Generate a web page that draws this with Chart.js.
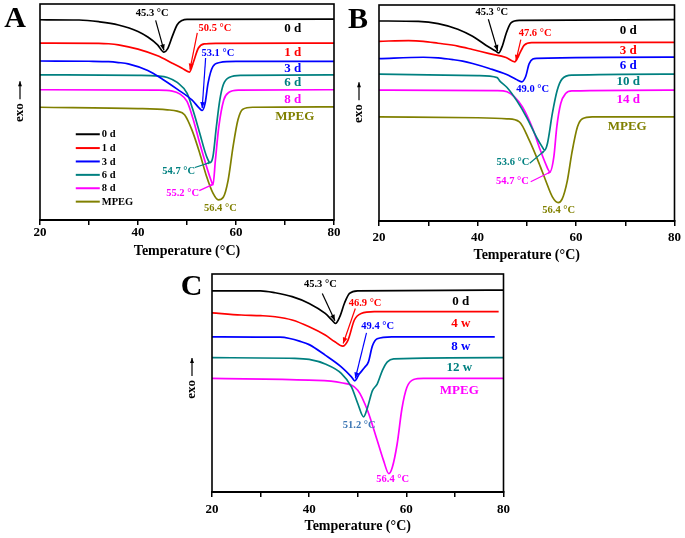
<!DOCTYPE html>
<html>
<head>
<meta charset="utf-8">
<script src="https://cdn.jsdelivr.net/npm/chart.js@4"></script>
<style>
  body { margin: 0; background: #fff; }
  #wrap { position: relative; width: 685px; height: 538px; overflow: hidden; }
  canvas { position: absolute; }
</style>
</head>
<body>
<div id="wrap">
  <canvas id="chartA" width="342" height="262" style="left:0;top:0"></canvas>
  <canvas id="chartB" width="345" height="266" style="left:340px;top:0"></canvas>
  <canvas id="chartC" width="345" height="276" style="left:170px;top:262px"></canvas>
</div>
<script>
// temperature (°C), heat flow (arb. units, exo up)
const a0 = [[20,92.7],[28,92.6],[32,91.8],[36,90.3],[40,87.3],[42,84.7],[44,81.1],[45.3,77.7],[46,79.1],[47,85.0],[48,90.4],[49,92.4],[50,92.9],[80,93.0]];
const a1 = [[20,81.9],[32,81.8],[34,81.6],[36,81.1],[40,79.1],[44,76.0],[47,72.6],[49,70.3],[50.5,68.5],[51.3,73.0],[52.3,79.5],[53.5,81.5],[56,81.8],[80,81.9]];
const a3 = [[20,73.6],[30,73.5],[34,73.3],[36,72.9],[38,72.3],[42,69.2],[45,65.2],[48,60.6],[51,55.6],[52.5,51.8],[53.1,50.7],[53.7,54.1],[54.3,63.4],[55.3,71.1],[56.7,72.9],[60,73.4],[80,73.4]];
const a6 = [[20,67.2],[40,67.0],[44,66.7],[46,66.0],[48,63.7],[50,58.7],[51.2,51.0],[52.6,40.2],[54,29.4],[54.7,26.6],[55.3,29.4],[56,43.3],[56.7,55.6],[57.4,62.6],[58.7,66.1],[61,67.0],[80,67.2]];
const a8 = [[20,60.3],[44,60.1],[47,59.7],[48.5,58.4],[50,54.9],[51.2,47.1],[52.6,35.5],[54,24.7],[55,17.8],[55.3,16.2],[55.8,27.8],[56.5,43.3],[57.5,55.6],[58.5,59.0],[60.5,60.1],[80,60.3]];
const aM = [[20,52.2],[40,51.6],[46,51.0],[48,50.4],[49.5,48.7],[51,41.7],[52.6,30.9],[54,20.1],[55.3,12.4],[56.4,9.3],[57.4,10.5],[58.4,18.5],[59.4,34.0],[60.4,46.4],[61.4,51.3],[63.5,52.2],[80,52.4]];

const b0 = [[20,92.6],[28,92.4],[32,91.4],[36,88.8],[39,85.5],[41.7,81.4],[43.7,78.7],[44.3,77.8],[45.1,81.4],[45.8,86.7],[46.8,91.7],[48.5,92.9],[80,93.2]];
const b3 = [[20,83.2],[26,83.5],[29,83.2],[32,82.3],[36,81.0],[39,79.4],[42.4,77.5],[45.8,75.7],[47.6,73.7],[48.5,77.3],[49.5,81.4],[51,82.6],[80,82.7]];
const b6 = [[20,75.2],[29,75.8],[32,75.5],[35,74.7],[37,74.0],[39,72.9],[42.4,70.6],[45.8,67.9],[47.8,65.6],[49,64.4],[49.8,67.0],[50.5,72.9],[52,75.3],[80,75.9]];
const b10 = [[20,68.0],[40,67.3],[44,66.4],[44.5,64.9],[46,61.8],[48,55.6],[50,47.9],[52,38.7],[53.2,34.1],[53.6,32.8],[54.2,35.9],[55.2,49.8],[56.2,60.6],[57.2,65.8],[59.2,67.5],[80,68.0]];
const b14 = [[20,60.6],[44,60.4],[46,59.8],[47.5,57.5],[49.1,52.9],[51.2,42.8],[52.5,34.4],[53.8,26.7],[54.7,22.8],[55.5,29.7],[56.1,43.6],[56.9,54.4],[57.9,59.0],[59.2,60.2],[80,60.6]];
const bM = [[20,48.2],[40,47.8],[46,47.3],[48.5,45.9],[50.5,37.4],[52.5,26.7],[53.8,19.0],[55.2,11.2],[56.4,8.5],[57.2,10.2],[58.2,18.2],[59.2,32.0],[60.3,43.6],[61.3,47.3],[63.3,48.2],[80,48.2]];

const c0 = [[20,92.3],[30,92.3],[33,91.4],[36.5,89.6],[40,86.5],[43.3,81.9],[44.8,78.6],[45.4,77.3],[46.3,80.4],[47.3,86.8],[48.3,91.1],[50,92.3],[80,92.6]];
const c4 = [[20,82.2],[26,81.2],[30,80.9],[33,80.4],[36.5,78.9],[40,75.8],[43.3,72.0],[45.3,68.9],[46.9,66.9],[48,69.7],[49.3,78.9],[50.7,81.9],[53.4,82.7],[79,82.7]];
const c8 = [[20,71.2],[34,71.0],[36,70.4],[38,69.2],[40,67.6],[43.3,62.8],[46.6,57.4],[48.7,52.8],[49.4,51.0],[50.3,54.1],[51.4,57.1],[52.2,59.7],[53,66.9],[54,70.3],[57,71.2],[78.2,71.2]];
const c12 = [[20,61.6],[37,61.3],[40,60.8],[43.3,58.7],[46.6,54.4],[48.7,48.2],[50,40.6],[51.2,34.5],[52,38.7],[53,46.4],[54,49.5],[55.1,55.9],[56.1,59.7],[57.4,61.1],[80,61.6]];
const cM = [[20,52.1],[40,51.3],[46.6,50.1],[50,46.7],[52,37.5],[54,23.7],[55.3,14.5],[56.4,8.4],[57.1,11.2],[58.1,21.9],[59.1,38.3],[60.1,47.9],[61.5,51.6],[63.5,52.1],[80,52.1]];

const xTicks = [20, 40, 60, 80];
const namesA = ['0 d', '1 d', '3 d', '6 d', '8 d', 'MPEG'];
const namesB = ['0 d', '3 d', '6 d', '10 d', '14 d', 'MPEG'];
const namesC = ['0 d', '4 w', '8 w', '12 w', 'MPEG'];

const BLACK = '#000000', RED = '#ff0000', BLUE = '#0000ff', TEAL = '#008080', MAG = '#ff00ff', OLIVE = '#808000';
const SERIF = '"Liberation Serif", "Times New Roman", serif';

// draws frame, panel letter, exo label, arrows, text and legend
const deco = {
  id: 'deco',
  afterDatasetsDraw(chart, args, o) {
    const {ctx, chartArea: a, scales: {x, y}} = chart;
    ctx.save();
    ctx.strokeStyle = '#000';
    ctx.lineWidth = 1.6;
    ctx.strokeRect(a.left, a.top, a.right - a.left, a.bottom - a.top);

    ctx.fillStyle = '#000';
    ctx.font = 'bold 30px ' + SERIF;
    ctx.textAlign = 'center';
    ctx.textBaseline = 'alphabetic';
    ctx.fillText(o.letter[0], o.letter[1], o.letter[2]);

    // exo --> rotated
    ctx.save();
    ctx.translate(a.left - 20, a.top + o.exo * (a.bottom - a.top));
    ctx.rotate(-Math.PI / 2);
    ctx.font = 'bold 13px ' + SERIF;
    ctx.textAlign = 'right';
    ctx.textBaseline = 'middle';
    ctx.fillText('exo', -2, 0);
    arrow(ctx, 2, 0, 20, 0, 5, 1.2);
    ctx.restore();

    for (const ar of o.arrows) {
      ctx.strokeStyle = ar[4];
      ctx.fillStyle = ar[4];
      arrow(ctx, x.getPixelForValue(ar[0]), y.getPixelForValue(ar[1]),
        x.getPixelForValue(ar[2]), y.getPixelForValue(ar[3]), ar[5], 1.2);
    }
    ctx.textAlign = 'center';
    ctx.textBaseline = 'middle';
    for (const t of o.texts) {
      ctx.fillStyle = t[3];
      ctx.font = 'bold ' + t[4] + 'px ' + SERIF;
      ctx.fillText(t[0], x.getPixelForValue(t[1]), y.getPixelForValue(t[2]));
    }
    if (o.legend) {
      const lg = o.legend;
      ctx.font = 'bold 10.5px ' + SERIF;
      ctx.textAlign = 'left';
      chart.data.datasets.forEach((ds, i) => {
        const py = y.getPixelForValue(lg.rows[i]);
        ctx.strokeStyle = ds.borderColor;
        ctx.lineWidth = 2;
        ctx.beginPath();
        ctx.moveTo(x.getPixelForValue(lg.x0), py);
        ctx.lineTo(x.getPixelForValue(lg.x1), py);
        ctx.stroke();
        ctx.fillStyle = '#000';
        ctx.fillText(ds.label, x.getPixelForValue(lg.x1) + 2, py + 0.5);
      });
    }
    ctx.restore();
  }
};

function arrow(ctx, x1, y1, x2, y2, head, w) {
  ctx.lineWidth = w;
  ctx.beginPath();
  ctx.moveTo(x1, y1);
  ctx.lineTo(x2, y2);
  ctx.stroke();
  if (!head) return;
  const an = Math.atan2(y2 - y1, x2 - x1);
  const c = Math.cos(an), s = Math.sin(an);
  ctx.beginPath();
  ctx.moveTo(x2, y2);
  ctx.lineTo(x2 - head * c + head * 0.4 * s, y2 - head * s - head * 0.4 * c);
  ctx.lineTo(x2 - head * c - head * 0.4 * s, y2 - head * s + head * 0.4 * c);
  ctx.closePath();
  ctx.fill();
}

function makeChart(id, curves, names, colors, p) {
  return new Chart(document.getElementById(id), {
    type: 'line',
    data: {
      datasets: curves.map((pts, i) => ({
        label: names[i],
        data: pts.map(q => ({x: q[0], y: q[1]})),
        borderColor: colors[i],
        borderWidth: 1.7,
        pointRadius: 0,
        fill: false,
        cubicInterpolationMode: 'monotone'
      }))
    },
    options: {
      responsive: false,
      animation: false,
      devicePixelRatio: 1,
      layout: { padding: p.pad },
      plugins: {
        legend: { display: false },
        tooltip: { enabled: false },
        deco: p.deco
      },
      scales: {
        x: {
          type: 'linear',
          min: 20, max: 80,
          afterFit: s => { s.height = p.axisH; },
          afterBuildTicks: s => { s.ticks = [20, 30, 40, 50, 60, 70, 80].map(v => ({value: v})); },
          ticks: {
            callback: v => xTicks.includes(v) ? v : '',
            color: '#000',
            padding: p.tickPad,
            maxRotation: 0,
            font: { family: SERIF, size: 13, weight: 'bold' }
          },
          grid: { display: true, drawOnChartArea: false, drawTicks: true, tickLength: 5, color: '#000', lineWidth: 1.5 },
          border: { display: true, color: '#000', width: 2 },
          title: {
            display: true,
            text: 'Temperature (°C)',
            color: '#000',
            padding: { top: 0, bottom: p.titlePad },
            font: { family: SERIF, size: 14, weight: 'bold' }
          }
        },
        y: { display: false, min: 0, max: 100 }
      }
    },
    plugins: [deco]
  });
}

makeChart('chartA', [a0, a1, a3, a6, a8, aM], namesA, [BLACK, RED, BLUE, TEAL, MAG, OLIVE], {
  pad: {left: 40, right: 8, top: 4, bottom: 0}, axisH: 42, tickPad: 0, titlePad: 2,
  deco: {
    letter: ['A', 15, 27], exo: 0.45,
    arrows: [
      [43.6, 92.4, 45.3, 78.5, BLACK, 6],
      [52.1, 86.6, 50.6, 69.6, RED, 6],
      [53.8, 75.0, 53.1, 51.8, BLUE, 6],
      [51.6, 24.3, 54.8, 26.7, TEAL, 3],
      [52.5, 13.6, 55.3, 16.5, MAG, 3]
    ],
    texts: [
      ['45.3 °C', 42.9, 95.5, BLACK, 10.5],
      ['50.5 °C', 55.7, 88.9, RED, 10.5],
      ['53.1 °C', 56.3, 77.3, BLUE, 10.5],
      ['54.7 °C', 48.3, 22.4, TEAL, 10.5],
      ['55.2 °C', 49.1, 12.4, MAG, 10.5],
      ['56.4 °C', 56.8, 5.4, OLIVE, 10.5],
      ['0 d', 71.6, 88.4, BLACK, 13],
      ['1 d', 71.6, 77.6, RED, 13],
      ['3 d', 71.6, 70.3, BLUE, 13],
      ['6 d', 71.6, 63.4, TEAL, 13],
      ['8 d', 71.6, 55.9, MAG, 13],
      ['MPEG', 72.0, 47.9, OLIVE, 13]
    ],
    legend: { x0: 27.3, x1: 32.2, rows: [39.7, 33.3, 27.1, 20.9, 14.7, 8.5] }
  }
});

makeChart('chartB', [b0, b3, b6, b10, b14, bM], namesB, [BLACK, RED, BLUE, TEAL, MAG, OLIVE], {
  pad: {left: 39, right: 9, top: 5, bottom: 0}, axisH: 45, tickPad: 4, titlePad: 2,
  deco: {
    letter: ['B', 18, 28], exo: 0.45,
    arrows: [
      [42.2, 93.4, 44.1, 78.7, BLACK, 6],
      [48.8, 84.0, 47.8, 74.1, RED, 6],
      [50.6, 26.7, 53.6, 32.5, TEAL, 3],
      [50.8, 18.2, 54.9, 22.8, MAG, 3]
    ],
    texts: [
      ['45.3 °C', 42.9, 96.8, BLACK, 10.5],
      ['47.6 °C', 51.7, 86.7, RED, 10.5],
      ['49.0 °C', 51.2, 60.9, BLUE, 10.5],
      ['53.6 °C', 47.2, 27.4, TEAL, 10.5],
      ['54.7 °C', 47.1, 18.2, MAG, 10.5],
      ['56.4 °C', 56.5, 4.8, OLIVE, 10.5],
      ['0 d', 70.6, 88.3, BLACK, 13],
      ['3 d', 70.6, 79.0, RED, 13],
      ['6 d', 70.6, 72.1, BLUE, 13],
      ['10 d', 70.6, 64.4, TEAL, 13],
      ['14 d', 70.6, 56.2, MAG, 13],
      ['MPEG', 70.4, 43.6, OLIVE, 13]
    ]
  }
});

makeChart('chartC', [c0, c4, c8, c12, cM], namesC, [BLACK, RED, BLUE, TEAL, MAG], {
  pad: {left: 42, right: 7, top: 12, bottom: 0}, axisH: 46, tickPad: 5, titlePad: 3,
  deco: {
    letter: ['C', 21.5, 33], exo: 0.477,
    arrows: [
      [42.7, 91.1, 45.3, 78.6, BLACK, 6],
      [49.5, 84.2, 47.0, 68.1, RED, 6],
      [51.8, 73.0, 49.5, 52.1, BLUE, 6]
    ],
    texts: [
      ['45.3 °C', 42.3, 95.4, BLACK, 10.5],
      ['46.9 °C', 51.5, 86.5, RED, 10.5],
      ['49.4 °C', 54.1, 75.8, BLUE, 10.5],
      ['51.2 °C', 50.3, 30.6, '#3f78b5', 10.5],
      ['56.4 °C', 57.2, 5.8, MAG, 10.5],
      ['0 d', 71.2, 87.3, BLACK, 13],
      ['4 w', 71.2, 77.3, RED, 13],
      ['8 w', 71.2, 66.6, BLUE, 13],
      ['12 w', 70.9, 57.1, TEAL, 13],
      ['MPEG', 70.9, 46.7, MAG, 13]
    ]
  }
});
</script>
</body>
</html>
